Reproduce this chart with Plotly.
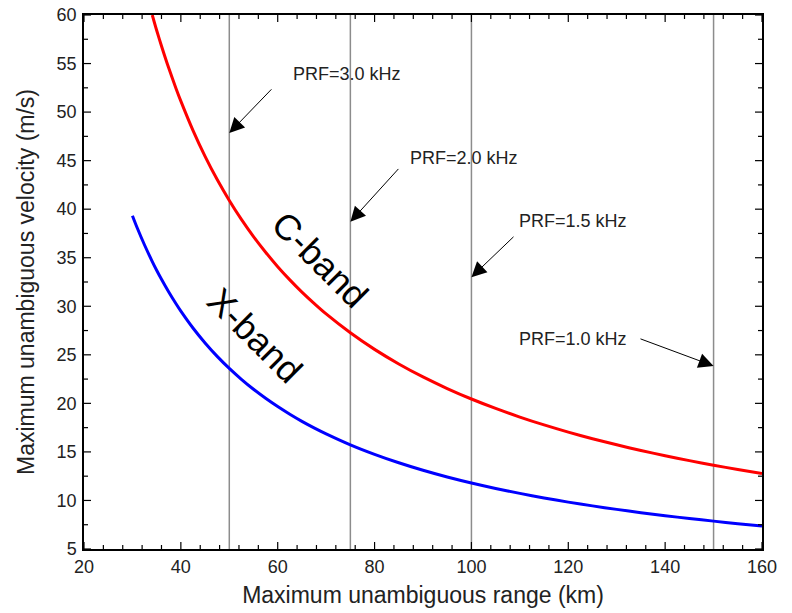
import plotly.graph_objects as go

# Maximum unambiguous range (km) / velocity (m/s)
c_range = [34.1, 35, 36, 37.5, 39, 40, 42.5, 45, 47.5, 50, 52.5, 55, 57.5, 60, 62.5, 65,
           67.5, 70, 75, 80, 85, 90, 95, 100, 105, 110, 115, 120, 125, 130, 135, 140,
           145, 150, 155, 160]
c_vel = [60.0, 58.43, 56.81, 54.53, 52.44, 51.13, 48.12, 45.44, 43.05, 40.90, 38.95, 37.18,
         35.57, 34.08, 32.72, 31.46, 30.30, 29.21, 27.27, 25.56, 24.06, 22.72, 21.53, 20.45,
         19.48, 18.59, 17.78, 17.04, 16.36, 15.73, 15.15, 14.61, 14.10, 13.63, 13.19, 12.78]

x_range = [30, 31, 32.5, 34, 35, 36, 37.5, 39, 40, 42.5, 45, 47.5, 50, 52.5, 55, 57.5, 60,
           62.5, 65, 67.5, 70, 75, 80, 85, 90, 95, 100, 105, 110, 115, 120, 125, 130, 135,
           140, 145, 150, 155, 160]
x_vel = [39.33, 38.06, 36.31, 34.71, 33.71, 32.78, 31.47, 30.26, 29.50, 27.76, 26.22, 24.84,
         23.60, 22.48, 21.45, 20.52, 19.67, 18.88, 18.15, 17.48, 16.86, 15.73, 14.75, 13.88,
         13.11, 12.42, 11.80, 11.24, 10.73, 10.26, 9.83, 9.44, 9.08, 8.74, 8.43, 8.14, 7.87,
         7.61, 7.38]

prf_labels = ["PRF=3.0 kHz", "PRF=2.0 kHz", "PRF=1.5 kHz", "PRF=1.0 kHz"]
prf_range = [50, 75, 100, 150]
# annotation placement (label center, arrow tail, arrow head y)
label_x = [74.3, 98.5, 121.0, 120.9]
label_y = [53.9, 45.3, 38.8, 26.6]
tail_x = [59.0, 85.2, 109.0, 134.6]
tail_y = [52.5, 44.3, 37.3, 26.7]
head_y = [47.85, 38.7, 33.0, 23.85]

# axis tick settings
x_min, x_max, x_major, x_minor = 20, 160, 20, 4
y_min, y_max, y_major, y_minor = 5, 60, 5, 2.5

FONT = "Liberation Sans, Arial, sans-serif"

fig = go.Figure()

for xv in prf_range:
    fig.add_shape(type="line", x0=xv, x1=xv, y0=0, y1=1, xref="x", yref="paper",
                  line=dict(color="#8c8c8c", width=1.5), layer="below")

fig.add_trace(go.Scatter(x=c_range, y=c_vel, mode="lines",
                         line=dict(color="#ff0000", width=3, shape="spline", smoothing=0.8),
                         name="C-band", showlegend=False))
fig.add_trace(go.Scatter(x=x_range, y=x_vel, mode="lines",
                         line=dict(color="#0000ff", width=3, shape="spline", smoothing=0.8),
                         name="X-band", showlegend=False))

# inside tick marks on all four sides (major + minor)
tick_line = dict(color="black", width=1.2)
n_x = int(round((x_max - x_min) / x_minor))
for k in range(n_x + 1):
    v = x_min + k * x_minor
    L = 7 if abs(((v - x_min) / x_major) - round((v - x_min) / x_major)) < 1e-9 else 4
    fig.add_shape(type="line", xref="x", yref="paper", x0=v, x1=v, ysizemode="pixel",
                  yanchor=0, y0=0, y1=L, line=tick_line)
    fig.add_shape(type="line", xref="x", yref="paper", x0=v, x1=v, ysizemode="pixel",
                  yanchor=1, y0=0, y1=-L, line=tick_line)
n_y = int(round((y_max - y_min) / y_minor))
for k in range(n_y + 1):
    v = y_min + k * y_minor
    L = 7 if abs(((v - y_min) / y_major) - round((v - y_min) / y_major)) < 1e-9 else 4
    fig.add_shape(type="line", yref="y", xref="paper", y0=v, y1=v, xsizemode="pixel",
                  xanchor=0, x0=0, x1=L, line=tick_line)
    fig.add_shape(type="line", yref="y", xref="paper", y0=v, y1=v, xsizemode="pixel",
                  xanchor=1, x0=0, x1=-L, line=tick_line)

for i in range(len(prf_labels)):
    fig.add_annotation(x=prf_range[i], y=head_y[i], ax=tail_x[i], ay=tail_y[i],
                       xref="x", yref="y", axref="x", ayref="y", text="",
                       showarrow=True, arrowhead=2, arrowsize=3, arrowwidth=1,
                       arrowcolor="black", standoff=0, startstandoff=0)
    fig.add_annotation(x=label_x[i], y=label_y[i], xref="x", yref="y", text=prf_labels[i],
                       showarrow=False, font=dict(family=FONT, size=18, color="#222"))

fig.add_annotation(x=68.7, y=34.8, xref="x", yref="y", text="C-band", showarrow=False,
                   textangle=45, font=dict(family=FONT, size=36, color="black"))
fig.add_annotation(x=55.3, y=27.0, xref="x", yref="y", text="X-band", showarrow=False,
                   textangle=45, font=dict(family=FONT, size=36, color="black"))

tickfont = dict(family=FONT, size=18, color="#222")
common = dict(showgrid=False, zeroline=False, showline=True, linecolor="black",
              linewidth=1.5, mirror=True, ticks="", automargin=False)

fig.update_layout(
    width=792, height=613, margin=dict(l=84, r=30, t=15, b=64),
    paper_bgcolor="white", plot_bgcolor="white", showlegend=False,
    xaxis=dict(range=[x_min, x_max], dtick=x_major, tick0=x_min, tickfont=tickfont,
               ticklabelstandoff=1,
               title=dict(text="Maximum unambiguous range (km)",
                          font=dict(family=FONT, size=23, color="#222"), standoff=11),
               **common),
    yaxis=dict(range=[y_min, y_max], dtick=y_major, tick0=y_min, tickfont=tickfont,
               ticklabelstandoff=2,
               title=dict(text="Maximum unambiguous velocity (m/s)",
                          font=dict(family=FONT, size=23, color="#222"), standoff=16),
               **common),
)

fig.write_html("out.html")
